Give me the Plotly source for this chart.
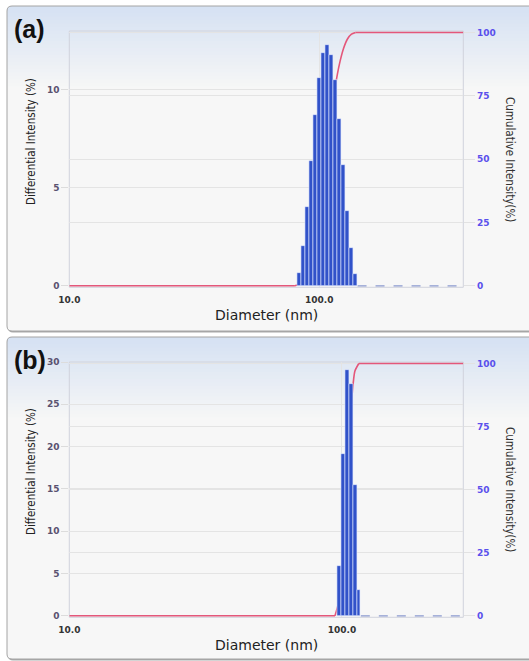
import numpy as np
import plotly.graph_objects as go

# ---------------- data ----------------
a_diameter = [82.9, 86.1, 89.4, 92.8, 96.3, 99.9, 103.7, 107.6, 111.7, 115.9, 120.3, 124.9, 129.6, 134.5, 139.6]
a_intensity = [0.66, 2.05, 4.04, 6.38, 8.70, 10.6, 11.9, 12.3, 11.8, 10.5, 8.5, 6.16, 3.84, 1.94, 0.62]
a_cumulative = [0.66, 2.71, 6.75, 13.13, 21.83, 32.43, 44.33, 56.63, 68.43, 78.93, 87.43, 93.59, 97.43, 99.37, 100.0]

b_diameter = [97.5, 100.8, 104.2, 107.8, 111.5, 115.3]
b_intensity = [5.9, 19.1, 29.0, 27.4, 15.5, 3.1]
b_cumulative = [5.9, 25.0, 54.0, 81.4, 96.9, 100.0]

x_tick_vals = [10, 100]
x_tick_text = ["10.0", "100.0"]
a_diff_ticks = [0, 5, 10]
b_diff_ticks = [0, 5, 10, 15, 20, 25, 30]
cum_ticks = [0, 25, 50, 75, 100]
panel_labels = ["(a)", "(b)"]

# ---------------- layout constants ----------------
W, H = 529, 661
def px(x):
    return x / W
def py(y):
    return 1 - y / H

X_DOM = [px(69.3), px(463.3)]
A_DOM = [py(287.3), py(31)]
B_DOM = [py(617.3), py(362)]
A_XRANGE = [1, 2.576]
B_XRANGE = [1, 2.445]
PAD = 0.6                      # small padding so the 0 % and 100 % lines are not clipped
CUM_RANGE = [-PAD, 100 + PAD]
FRAC = PAD / (100 + 2 * PAD)
def diff_range(top):
    return [-FRAC * top / (1 - FRAC), top]

BAR_COLOR = "#3152c9"
CUM_COLOR = "#e4577a"
GRID = "#e4e4e4"
BORDER = "#d0d3dc"
RIGHT_TICK = "#5a50ec"
LEFT_TICK = "#5a5270"
NONE = "rgba(0,0,0,0)"

fig = go.Figure()
front_shapes = []

def add_panel(diam, inten, cum, xa, ycum, ydiff, xrange_):
    d = np.array(diam, dtype=float)
    r = (d[-1] / d[0]) ** (1.0 / (len(d) - 1))
    widths = d * (np.sqrt(r) - 1 / np.sqrt(r))
    line_style = dict(color=CUM_COLOR, width=1.6)
    # flat 0 % part, rising part (smoothed), flat 100 % part
    fig.add_trace(go.Scatter(x=[10 ** xrange_[0], d[0] / r], y=[0, 0], mode="lines", xaxis=xa, yaxis=ycum,
                             line=line_style, hoverinfo="skip", showlegend=False))
    fig.add_trace(go.Scatter(x=[d[0] / r] + list(d), y=[0] + list(cum), mode="lines", xaxis=xa, yaxis=ycum,
                             line=dict(line_style, shape="spline", smoothing=0.6),
                             hoverinfo="skip", showlegend=False))
    fig.add_trace(go.Scatter(x=[d[-1], 10 ** xrange_[1]], y=[cum[-1], cum[-1]], mode="lines", xaxis=xa, yaxis=ycum,
                             line=line_style, hoverinfo="skip", showlegend=False))
    fig.add_trace(go.Bar(x=list(d), y=inten, width=list(widths), xaxis=xa, yaxis=ydiff,
                         marker=dict(color=BAR_COLOR, line=dict(color="rgba(225,232,255,0.9)", width=0.7)),
                         showlegend=False))
    # plot-area frame
    front_shapes.append(dict(type="rect", xref=f"{xa} domain", yref=f"{ycum} domain", x0=0, x1=1, y0=0, y1=1,
                             line=dict(color=BORDER, width=1), fillcolor=NONE, layer="below"))
    # zero part of the differential curve to the right of the bars
    front_shapes.append(dict(type="line", xref=xa, yref=ycum, x0=d[-1] * np.sqrt(r), x1=10 ** xrange_[1],
                             y0=0, y1=0, line=dict(color="#8c9ad0", width=1.2, dash="dash"), layer="below"))

add_panel(a_diameter, a_intensity, a_cumulative, "x", "y", "y2", A_XRANGE)
add_panel(b_diameter, b_intensity, b_cumulative, "x2", "y3", "y4", B_XRANGE)

tick_font_bold = dict(family="Verdana, DejaVu Sans, sans-serif", size=9, weight="bold")

def xaxis_cfg(dom_anchor, rng):
    return dict(type="log", domain=X_DOM, range=rng, anchor=dom_anchor, automargin=False,
                tickvals=x_tick_vals, ticktext=x_tick_text, showgrid=True, gridcolor=GRID,
                ticks="outside", ticklen=4, tickcolor=NONE,
                tickfont=dict(color="#333333", **tick_font_bold),
                showline=False, zeroline=False)

def cum_cfg(dom, xa):
    return dict(domain=dom, anchor=xa, side="right", range=CUM_RANGE, tickvals=cum_ticks, automargin=False,
                showgrid=True, gridcolor=GRID, ticks="outside", ticklen=11, tickcolor="#e2e2e2",
                tickfont=dict(color=RIGHT_TICK, **tick_font_bold),
                showline=False, zeroline=True, zerolinecolor=NONE)

def diff_cfg(ov, rng, ticks, xa):
    return dict(overlaying=ov, anchor=xa, side="left", range=rng, tickvals=ticks, automargin=False,
                showgrid=True, gridcolor=GRID, ticks="outside", ticklen=7, tickcolor="#dcdcdc",
                tickfont=dict(color=LEFT_TICK, **tick_font_bold),
                showline=False, zeroline=True, zerolinecolor=NONE)

fig.update_layout(
    width=W, height=H, margin=dict(l=0, r=0, t=0, b=0, autoexpand=False),
    paper_bgcolor="white", plot_bgcolor=NONE,
    bargap=0, barmode="overlay",
    xaxis=xaxis_cfg("y", A_XRANGE),
    xaxis2=xaxis_cfg("y3", B_XRANGE),
    yaxis=cum_cfg(A_DOM, "x"),
    yaxis2=diff_cfg("y", diff_range(13), a_diff_ticks, "x"),
    yaxis3=cum_cfg(B_DOM, "x2"),
    yaxis4=diff_cfg("y3", diff_range(30), b_diff_ticks, "x2"),
)

# ---------------- panel boxes with gradient ----------------
def rrect(x0, y0, x1, y1, r, top_only=False):
    X0, X1 = px(x0), px(x1)
    Y0, Y1 = py(y0), py(y1)
    rx, ry = r / W, r / H
    if top_only:
        return (f"M {X0},{Y1} L {X0},{Y0-ry} Q {X0},{Y0} {X0+rx},{Y0} "
                f"L {X1-rx},{Y0} Q {X1},{Y0} {X1},{Y0-ry} L {X1},{Y1} Z")
    return (f"M {X0+rx},{Y0} L {X1-rx},{Y0} Q {X1},{Y0} {X1},{Y0-ry} "
            f"L {X1},{Y1+ry} Q {X1},{Y1} {X1-rx},{Y1} L {X0+rx},{Y1} "
            f"Q {X0},{Y1} {X0},{Y1+ry} L {X0},{Y0-ry} Q {X0},{Y0} {X0+rx},{Y0} Z")

shapes = []
top_c = np.array([214, 226, 243])
bot_c = np.array([247, 247, 247])
for (y0, y1) in [(6, 331), (337, 659)]:
    x0, x1 = 7, 545
    shapes.append(dict(type="path", path=rrect(x0 + 1, y0 + 1.5, x1 + 1, y1 + 1.5, 5),
                       xref="paper", yref="paper", fillcolor="#a9a9a9", line=dict(width=0), layer="below"))
    shapes.append(dict(type="path", path=rrect(x0, y0, x1, y1, 5),
                       xref="paper", yref="paper", fillcolor="rgb(247,247,247)", line=dict(width=0), layer="below"))
    nb = 24
    band_h = 3.5
    for i in range(nb):
        t = i / (nb - 1)
        c = top_c + (bot_c - top_c) * t
        col = f"rgb({int(c[0])},{int(c[1])},{int(c[2])})"
        ya = y0 + i * band_h
        yb = ya + band_h + 0.6
        if i == 0:
            shapes.append(dict(type="path", path=rrect(x0, ya, x1, yb, 5, top_only=True),
                               xref="paper", yref="paper", fillcolor=col, line=dict(width=0), layer="below"))
        else:
            shapes.append(dict(type="rect", x0=px(x0), x1=px(x1), y0=py(yb), y1=py(ya),
                               xref="paper", yref="paper", fillcolor=col, line=dict(width=0), layer="below"))
    shapes.append(dict(type="path", path=rrect(x0, y0, x1, y1, 5),
                       xref="paper", yref="paper", line=dict(color="#a4a4a4", width=1), layer="below"))

shapes.extend(front_shapes)
fig.update_layout(shapes=shapes)

# ---------------- texts ----------------
title_font = dict(family="Liberation Sans Narrow, DejaVu Sans Condensed, Arial Narrow, Liberation Sans, Arial, sans-serif",
                  size=11.5, color="#222222")
ann = []
for lab, ytop, off in [(panel_labels[0], 29, 0), (panel_labels[1], 360, 330)]:
    ann.append(dict(text=f"<b>{lab}</b>", x=px(12), y=py(ytop), xref="paper", yref="paper",
                    xanchor="left", yanchor="middle", showarrow=False,
                    font=dict(family="Liberation Sans, Arial, sans-serif", size=25, color="#111111")))
    ann.append(dict(text="Differential Intensity (%)", x=px(31), y=py(142 + off), xref="paper", yref="paper",
                    textangle=-90, showarrow=False, xanchor="center", yanchor="middle", font=title_font))
    ann.append(dict(text="Cumulative Intensity(%)", x=px(510), y=py(159 + off), xref="paper", yref="paper",
                    textangle=90, showarrow=False, xanchor="center", yanchor="middle",
                    font=dict(title_font, color="#333333")))
    ann.append(dict(text="Diameter (nm)", x=px(266), y=py(315 + off), xref="paper", yref="paper",
                    showarrow=False, xanchor="center", yanchor="middle",
                    font=dict(family="Verdana, DejaVu Sans, sans-serif", size=14, color="#222222")))
fig.update_layout(annotations=ann)

fig.write_html("out.html", config={"displayModeBar": False},
               post_script="document.body.style.margin='0';")
